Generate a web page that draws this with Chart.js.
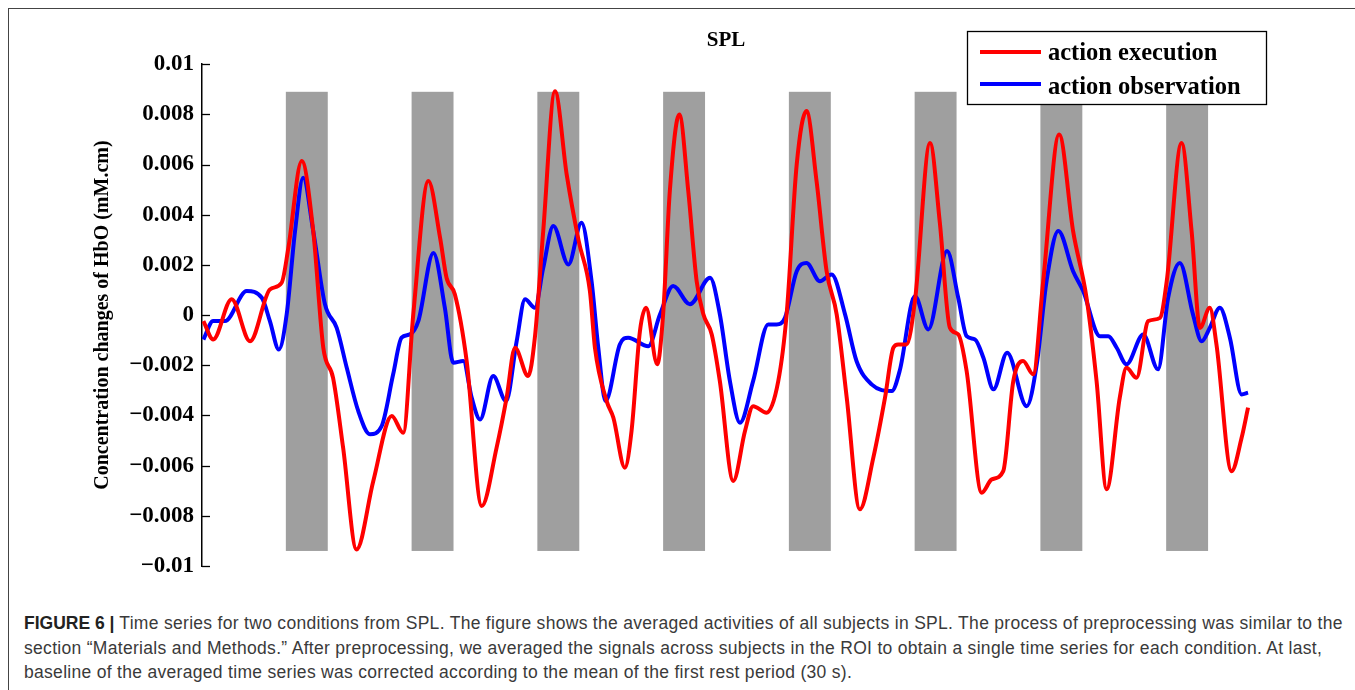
<!DOCTYPE html>
<html>
<head>
<meta charset="utf-8">
<script src="https://cdn.jsdelivr.net/npm/chart.js@4.4.1/dist/chart.umd.min.js"></script>
<style>
  body { margin: 0; background: #fff; width: 1355px; height: 690px; overflow: hidden; position: relative; }
  #frame { position: absolute; left: 8px; top: 8px; width: 1360px; height: 700px; border-left: 1.5px solid #444; border-top: 1.5px solid #444; }
  #wrap { position: absolute; left: 0; top: 0; width: 1355px; height: 590px; }
  #caption { position: absolute; left: 24px; top: 611px; font-family: "Liberation Sans", Arial, sans-serif; font-size: 17.5px; letter-spacing: 0.3px; line-height: 24.6px; color: #3a3a3a; white-space: nowrap; }
  #caption b { color: #222; letter-spacing: 0; }
</style>
</head>
<body>
<div id="frame"></div>
<div id="wrap"><canvas id="chart" width="1355" height="590"></canvas></div>
<div id="caption"><b>FIGURE 6 |</b> Time series for two conditions from SPL. The figure shows the averaged activities of all subjects in SPL. The process of preprocessing was similar to the<br>section “Materials and Methods.” After preprocessing, we averaged the signals across subjects in the ROI to obtain a single time series for each condition. At last,<br>baseline of the averaged time series was corrected according to the mean of the first rest period (30 s).</div>
<script>
// time in seconds, HbO change in mM.cm
const execTime = [0.5, 4.0, 10.6, 17.2, 24.3, 28.5, 30.9, 35.7, 39.8, 43.4, 46.9, 50.5, 55.3, 61.3, 67.9, 72.0, 75.6, 81.0, 85.2, 87.5, 90.5, 94.7, 100.1, 105.4, 109.0, 112.0, 116.7, 119.1, 122.1, 126.3, 130.5, 134.8, 138.8, 140.6, 144.8, 147.2, 151.3, 153.7, 156.7, 158.9, 162.9, 165.0, 167.4, 170.8, 174.0, 177.0, 179.4, 182.4, 185.3, 190.1, 194.3, 197.2, 202.0, 206.2, 209.2, 212.8, 216.3, 219.9, 223.5, 227.1, 230.7, 235.4, 240.2, 244.4, 247.4, 249.1, 252.1, 255.1, 260.5, 264.0, 267.6, 270.6, 273.6, 279.0, 282.6, 286.7, 290.3, 293.8, 297.4, 301.0, 306.7, 311.7, 316.5, 320.1, 323.7, 328.4, 330.8, 334.4, 338.6, 342.8, 345.2, 350.5, 354.1, 357.1, 360.6, 363.0, 368.4, 372.0, 374.3];
const execHbO = [-0.00024, -0.00097, 0.00063, -0.00104, 0.00102, 0.00129, 0.00268, 0.00614, 0.00335, -0.0013, -0.0025, -0.00529, -0.00934, -0.00661, -0.00402, -0.00469, 0.00003, 0.00534, 0.00308, 0.00149, 0.00082, -0.00183, -0.00761, -0.00529, -0.00329, -0.0013, -0.00243, -0.0009, 0.00335, 0.00892, 0.0056, 0.00295, 0.00096, -0.0013, -0.00343, -0.00409, -0.00608, -0.00462, -0.00064, 0.00029, -0.00196, 0.00003, 0.00494, 0.008, 0.00494, 0.00135, 0.00003, -0.00077, -0.00263, -0.00661, -0.00462, -0.00363, -0.00389, -0.00263, 0.00003, 0.006, 0.00813, 0.00534, 0.00175, 0.00003, -0.00329, -0.00774, -0.00569, -0.00329, -0.0013, -0.00117, -0.00117, 0.00056, 0.00686, 0.0037, -0.0005, -0.00077, -0.00223, -0.00708, -0.00655, -0.00622, -0.00263, -0.00183, -0.00236, 0.00135, 0.0072, 0.00335, 0.00069, -0.00263, -0.00694, -0.00329, -0.0021, -0.0025, -0.00024, -0.00011, 0.00135, 0.00686, 0.00335, -0.00051, 0.00029, -0.00117, -0.00622, -0.00489, -0.00369];

const obsTime = [0.5, 4.0, 8.2, 16.0, 21.4, 24.3, 27.5, 30.3, 33.3, 36.2, 39.8, 44.0, 48.2, 51.8, 55.9, 60.1, 64.3, 68.4, 71.4, 74.4, 77.4, 82.8, 86.9, 89.9, 93.5, 96.5, 99.5, 104.2, 108.8, 112.6, 115.6, 119.1, 122.1, 125.7, 131.1, 135.8, 139.4, 141.8, 144.4, 149.5, 152.5, 159.7, 163.9, 168.6, 174.6, 181.8, 185.3, 188.9, 192.5, 197.2, 202.6, 205.6, 208.6, 212.8, 216.3, 221.1, 225.3, 230.1, 234.2, 239.6, 246.8, 249.7, 255.1, 259.9, 266.6, 270.6, 273.6, 276.6, 279.6, 283.2, 288.1, 295.1, 298.7, 302.2, 306.4, 311.7, 315.3, 321.3, 324.3, 327.3, 330.8, 336.8, 342.1, 345.7, 349.9, 354.6, 357.7, 360.6, 364.2, 367.8, 372.0, 374.3];
const obsHbO = [-0.00097, -0.00024, -0.00024, 0.00096, 0.00069, -0.00024, -0.00137, 0.00003, 0.00335, 0.00547, 0.00335, 0.00043, -0.00051, -0.0021, -0.00382, -0.00475, -0.00442, -0.00236, -0.0009, -0.00077, -0.00024, 0.00248, 0.00029, -0.0019, -0.00183, -0.00329, -0.00416, -0.00243, -0.00343, -0.00104, 0.00063, 0.00029, 0.00188, 0.00355, 0.00202, 0.00368, 0.00135, -0.0013, -0.00343, -0.00117, -0.0009, -0.00124, 0.00003, 0.00116, 0.00043, 0.00149, 0.00003, -0.00263, -0.00429, -0.00263, -0.00037, -0.00037, -0.00011, 0.00175, 0.00208, 0.00135, 0.00162, 0.00003, -0.00183, -0.00276, -0.00303, -0.0022, 0.00076, -0.00057, 0.00255, 0.00069, -0.00084, -0.00097, -0.0017, -0.00296, -0.0015, -0.00363, -0.00196, 0.00135, 0.00335, 0.00175, 0.00096, -0.00084, -0.00084, -0.0013, -0.00196, -0.00077, -0.00216, 0.00069, 0.00208, 0.00003, -0.00104, -0.00051, 0.00029, -0.0009, -0.00316, -0.00309];

// task blocks (s): start times, 15 s long
const blockStart = [30, 75, 120, 165, 210, 255, 300, 345];
const blockLength = 15;
const blockRange = [-0.0094, 0.0089];

const seriesNames = ["action execution", "action observation"];
const seriesColors = ["#ff0000", "#0000ff"];

const serif = "'Liberation Serif', 'Times New Roman', serif";

function toPoints(ts, vs) {
  return ts.map((t, i) => ({ x: t, y: vs[i] }));
}

const blocksPlugin = {
  id: "blocks",
  beforeDatasetsDraw(chart) {
    const { ctx, scales: { x, y } } = chart;
    ctx.save();
    ctx.fillStyle = "#9f9f9f";
    const top = y.getPixelForValue(blockRange[1]);
    const bottom = y.getPixelForValue(blockRange[0]);
    blockStart.forEach(s => {
      const x0 = x.getPixelForValue(s);
      const x1 = x.getPixelForValue(s + blockLength);
      ctx.fillRect(x0, top, x1 - x0, bottom - top);
    });
    ctx.restore();
  }
};

// ticks pointing into the plot, like matlab
const innerTicks = {
  id: "innerTicks",
  afterDraw(chart) {
    const { ctx, scales: { y } } = chart;
    ctx.save();
    ctx.strokeStyle = "#000";
    ctx.lineWidth = 1.3;
    y.ticks.forEach(t => {
      const py = Math.round(y.getPixelForValue(t.value)) + 0.5;
      ctx.beginPath();
      ctx.moveTo(y.right, py);
      ctx.lineTo(y.right + 8, py);
      ctx.stroke();
    });
    ctx.restore();
  }
};

const boxLegend = {
  id: "boxLegend",
  afterDraw(chart) {
    const ctx = chart.ctx;
    ctx.save();
    ctx.fillStyle = "#fff";
    ctx.fillRect(967, 31, 299, 73);
    ctx.strokeStyle = "#000";
    ctx.lineWidth = 1.3;
    ctx.strokeRect(967.5, 31.5, 299, 73);
    ctx.font = "bold 24.5px " + serif;
    ctx.textBaseline = "middle";
    chart.data.datasets.forEach((ds, i) => {
      const yy = 52 + i * 32;
      ctx.strokeStyle = ds.borderColor;
      ctx.lineWidth = 4;
      ctx.beginPath();
      ctx.moveTo(980, yy);
      ctx.lineTo(1041, yy);
      ctx.stroke();
      ctx.fillStyle = "#000";
      ctx.fillText(ds.label, 1048, yy + 2 + i * 2);
    });
    ctx.restore();
  }
};

new Chart(document.getElementById("chart"), {
  type: "line",
  data: {
    datasets: [
      { label: seriesNames[0], data: toPoints(execTime, execHbO), borderColor: seriesColors[0], borderWidth: 4, pointRadius: 0, tension: 0.4, cubicInterpolationMode: "monotone" },
      { label: seriesNames[1], data: toPoints(obsTime, obsHbO), borderColor: seriesColors[1], borderWidth: 4, pointRadius: 0, tension: 0.4, cubicInterpolationMode: "monotone" }
    ]
  },
  options: {
    responsive: false,
    animation: false,
    events: [],
    layout: { padding: { left: 90, right: 105, top: 16, bottom: 24 } },
    plugins: {
      legend: { display: false },
      tooltip: { enabled: false },
      title: {
        display: true,
        text: "SPL",
        fullSize: false,
        color: "#000",
        font: { family: serif, size: 21, weight: "bold" },
        padding: { top: 12, bottom: 11 }
      }
    },
    scales: {
      x: { type: "linear", min: 0, max: 375, display: false },
      y: {
        min: -0.01,
        max: 0.01,
        afterFit: s => { s.width = 112; },
        grid: { display: false, drawTicks: false },
        border: { display: true, color: "#000", width: 1.5 },
        ticks: {
          stepSize: 0.002,
          padding: 8,
          color: "#000",
          font: { family: serif, size: 23, weight: "bold" },
          callback: v => {
            const r = Math.round(v * 1000) / 1000;
            if (r === 0) return "0";
            return (r < 0 ? "\u2212" : "") + String(Math.abs(r));
          }
        },
        title: {
          display: true,
          text: "Concentration changes of HbO (mM.cm)",
          color: "#000",
          font: { family: serif, size: 20, weight: "bold" },
          padding: { top: 1, bottom: 0 }
        }
      }
    }
  },
  plugins: [blocksPlugin, innerTicks, boxLegend]
});
</script>
</body>
</html>
